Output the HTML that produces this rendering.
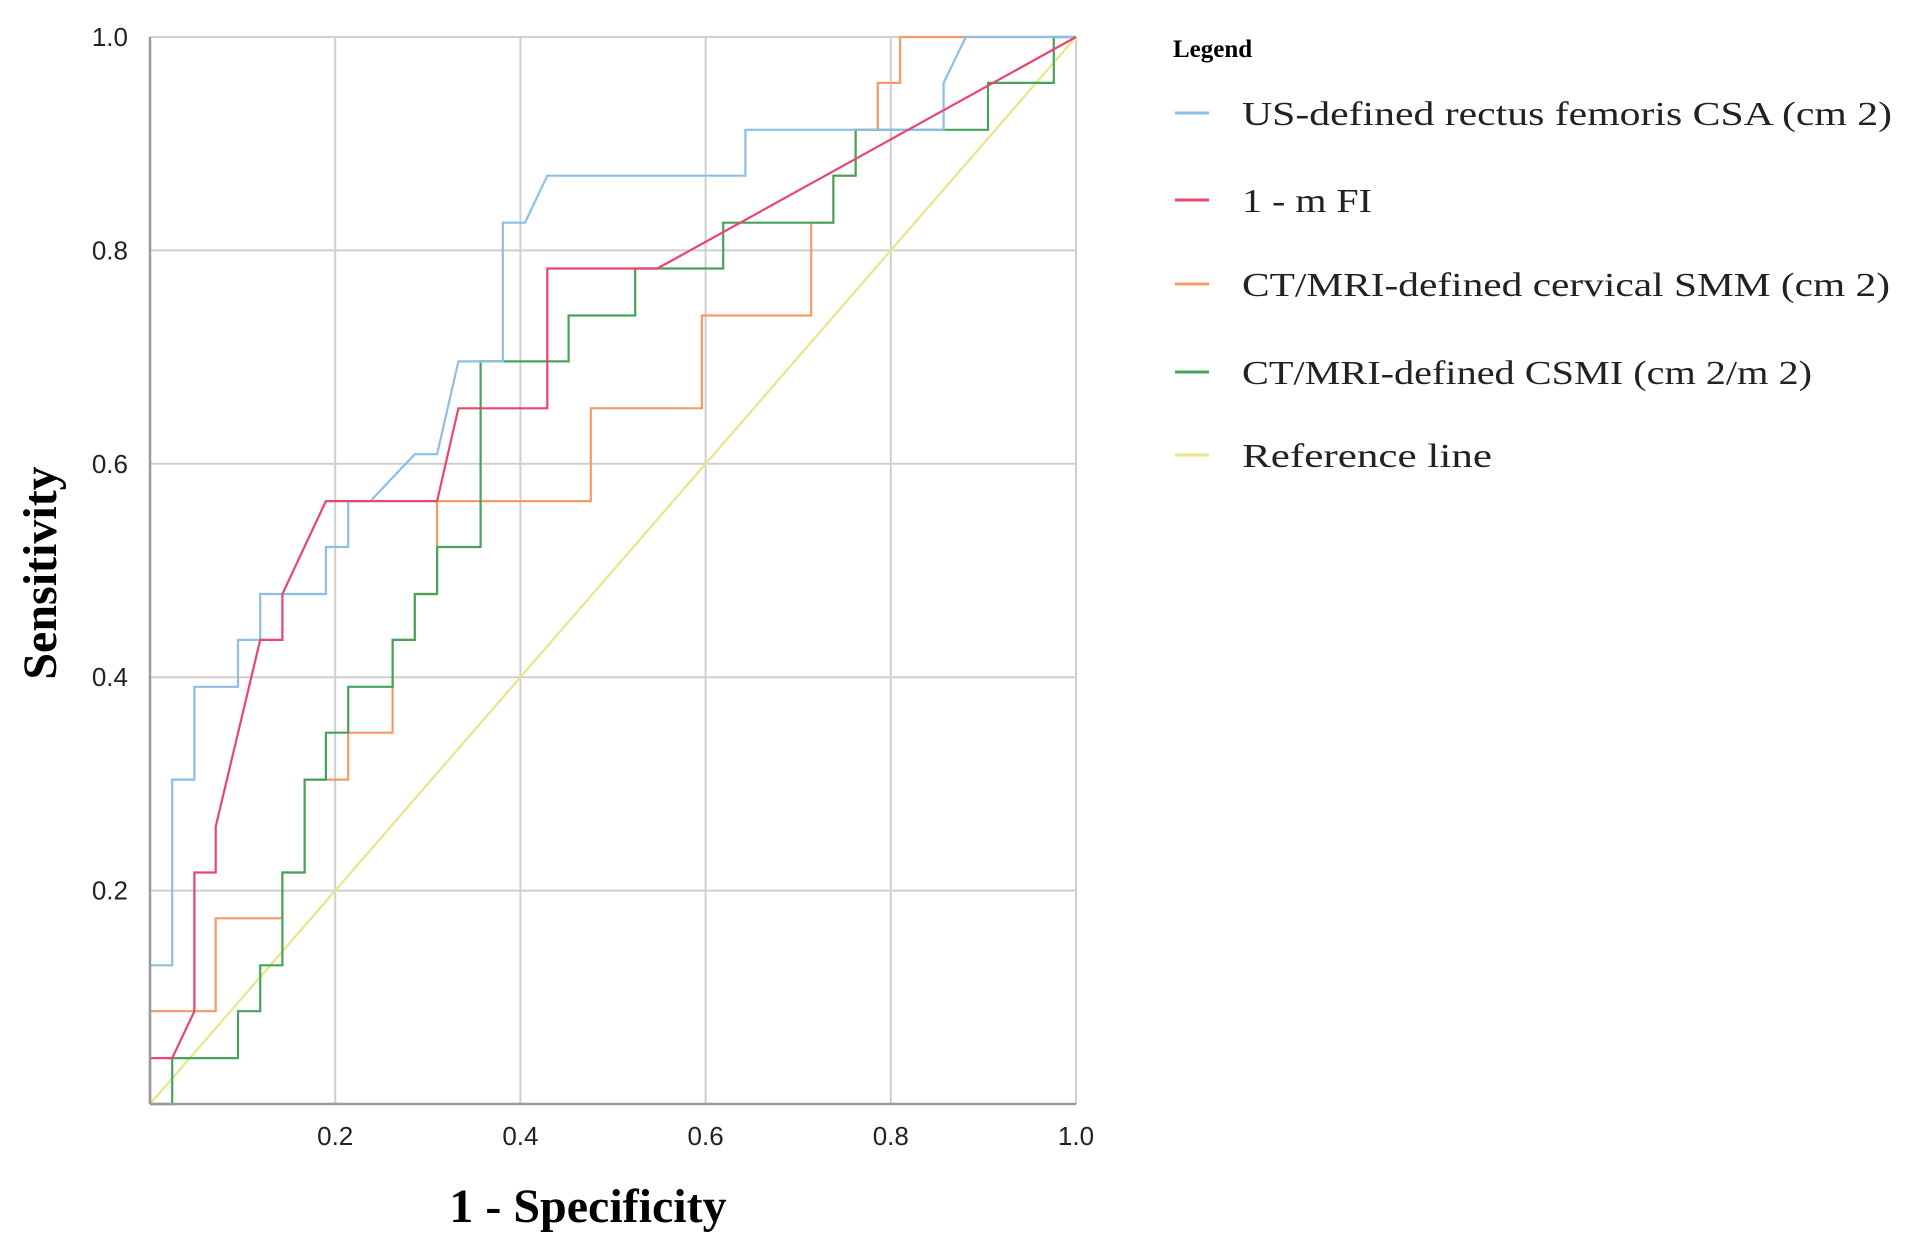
<!DOCTYPE html>
<html><head><meta charset="utf-8"><style>
html,body{margin:0;padding:0;background:#fff;}
svg{display:block;}
</style></head><body>
<svg id="chart" width="1910" height="1250" xmlns="http://www.w3.org/2000/svg">
<g id="grid"></g>
<g id="series"></g>
<g id="axes"></g>
<text x="588" y="1222" text-anchor="middle" font-family="Liberation Serif, serif" font-weight="bold" font-size="48">1 - Specificity</text>
<text transform="translate(56,573) rotate(-90)" text-anchor="middle" font-family="Liberation Serif, serif" font-weight="bold" font-size="48">Sensitivity</text>
<g id="legend">
<text x="1173" y="57" font-family="Liberation Serif, serif" font-weight="bold" font-size="25">Legend</text>
</g>
</svg>
<script>
const xTicks = [0.2, 0.4, 0.6, 0.8, 1.0];
const yTicks = [0.2, 0.4, 0.6, 0.8, 1.0];
const seriesNames = ["US-defined rectus femoris CSA (cm 2)", "1 - m FI", "CT/MRI-defined cervical SMM (cm 2)", "CT/MRI-defined CSMI (cm 2/m 2)", "Reference line"];
const usX = [0,0,0.024,0.024,0.048,0.048,0.095,0.095,0.119,0.119,0.190,0.190,0.214,0.214,0.238,0.286,0.310,0.333,0.381,0.381,0.405,0.429,0.643,0.643,0.857,0.857,0.881,1];
const usY = [0,0.130,0.130,0.304,0.304,0.391,0.391,0.435,0.435,0.478,0.478,0.522,0.522,0.565,0.565,0.609,0.609,0.696,0.696,0.826,0.826,0.870,0.870,0.913,0.913,0.957,1,1];
const mfiX = [0,0,0.024,0.048,0.048,0.071,0.071,0.119,0.143,0.143,0.190,0.310,0.333,0.429,0.429,0.548,1];
const mfiY = [0,0.043,0.043,0.087,0.217,0.217,0.260,0.435,0.435,0.478,0.565,0.565,0.652,0.652,0.783,0.783,1];
const smmX = [0,0,0.071,0.071,0.143,0.143,0.167,0.167,0.214,0.214,0.262,0.262,0.286,0.286,0.310,0.310,0.476,0.476,0.596,0.596,0.714,0.714,0.738,0.738,0.762,0.762,0.786,0.786,0.810,0.810,1];
const smmY = [0,0.087,0.087,0.174,0.174,0.217,0.217,0.304,0.304,0.348,0.348,0.435,0.435,0.478,0.478,0.565,0.565,0.652,0.652,0.739,0.739,0.826,0.826,0.870,0.870,0.913,0.913,0.957,0.957,1,1];
const csmiX = [0,0.024,0.024,0.095,0.095,0.119,0.119,0.143,0.143,0.167,0.167,0.190,0.190,0.214,0.214,0.262,0.262,0.286,0.286,0.310,0.310,0.357,0.357,0.452,0.452,0.524,0.524,0.619,0.619,0.738,0.738,0.762,0.762,0.905,0.905,0.976,0.976,1];
const csmiY = [0,0,0.043,0.043,0.087,0.087,0.130,0.130,0.217,0.217,0.304,0.304,0.348,0.348,0.391,0.391,0.435,0.435,0.478,0.478,0.522,0.522,0.696,0.696,0.739,0.739,0.783,0.783,0.826,0.826,0.870,0.870,0.913,0.913,0.957,0.957,1,1];
const refX = [0,1];
const refY = [0,1];

const L=150,R=1076,T=37,B=1104;
const sx=v=>L+v*(R-L), sy=v=>B-v*(B-T);
const NS="http://www.w3.org/2000/svg";
function mk(tag,attrs,parent){const e=document.createElementNS(NS,tag);for(const k in attrs)e.setAttribute(k,attrs[k]);parent.appendChild(e);return e;}
const grid=document.getElementById('grid'),axes=document.getElementById('axes'),ser=document.getElementById('series'),leg=document.getElementById('legend');
xTicks.forEach(t=>{
  const g=mk('line',{x1:sx(t),x2:sx(t),y1:T,y2:B,stroke:'#cfcfcf','stroke-width':2},grid);
  
  
  const tx=mk('text',{x:sx(t),y:1145,'text-anchor':'middle','font-family':'Liberation Sans, sans-serif','font-size':26,fill:'#222'},axes);
  tx.textContent=t.toFixed(1);
  
  
});
yTicks.forEach(t=>{
  const g=mk('line',{x1:L,x2:R,y1:sy(t),y2:sy(t),stroke:'#cfcfcf','stroke-width':2},grid);
  
  
  const tx=mk('text',{x:128,y:sy(t)+9,'text-anchor':'end','font-family':'Liberation Sans, sans-serif','font-size':26,fill:'#222'},axes);
  tx.textContent=t.toFixed(1);
  
  
});
const ax1=mk('line',{x1:L,x2:L,y1:T,y2:B,stroke:'#999','stroke-width':2.5},axes);


const ax2=mk('line',{x1:L,x2:R,y1:B,y2:B,stroke:'#999','stroke-width':2.5},axes);



const colors=['#8dbfe6','#e8456f','#f59a68','#47a35a','#e8e686'];
const data=[[usX,usY],[mfiX,mfiY],[smmX,smmY],[csmiX,csmiY],[refX,refY]];
const order=[4,2,3,0,1];
const snames=['us-rf-csa-curve','mfi-curve','cervical-smm-curve','csmi-curve','reference-line'];
order.forEach(i=>{
  const [xs,ys]=data[i];
  const pts=xs.map((x,j)=>sx(x).toFixed(1)+','+sy(ys[j]).toFixed(1)).join(' ');
  const p=mk('polyline',{points:pts,fill:'none',stroke:colors[i],'stroke-width':2.2,'stroke-linejoin':'miter'},ser);
  
  
});
const ly=[113,200,284,372,455];
const widths=[650,130,648,570,250];
seriesNames.forEach((n,i)=>{
  const l=mk('line',{x1:1175,x2:1209,y1:ly[i],y2:ly[i],stroke:colors[i],'stroke-width':3},leg);
  
  
  const t=mk('text',{x:1242,y:ly[i]+12,'font-family':'Liberation Serif, serif','font-size':34,fill:'#222',textLength:widths[i],lengthAdjust:'spacingAndGlyphs'},leg);
  t.textContent=n;
  
  
});
</script>
</body></html>
